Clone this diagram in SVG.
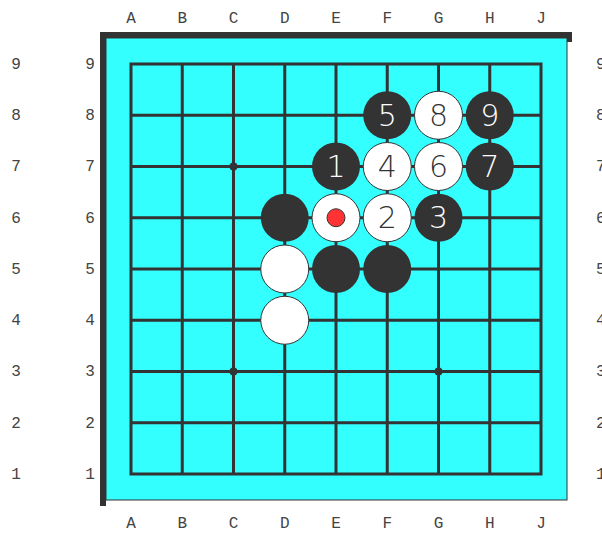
<svg xmlns="http://www.w3.org/2000/svg" width="602" height="533" viewBox="0 0 602 533">
<style>
.lbl{font-family:"Liberation Mono","Courier New",monospace;font-size:16px;fill:#444;text-anchor:middle;dominant-baseline:central;font-weight:300}
.rl{text-anchor:start}
.g{stroke:#333;stroke-width:3;fill:none}
.b{fill:#333}
.w{fill:#fff;stroke:#333;stroke-width:1}
.n{font-family:"DejaVu Sans","Liberation Sans",sans-serif;font-size:30px;font-weight:200;text-anchor:middle;dominant-baseline:central}
.nb{fill:#fff}
.nw{fill:#333}
.hoshi{fill:#333}
</style>
<rect width="602" height="533" fill="#fff"/>
<g id="board">
<rect x="100" y="32" width="472" height="6" fill="#333"/>
<rect x="566" y="32" width="6" height="10" fill="#333"/>
<rect x="100" y="32" width="6" height="474" fill="#333"/>
<rect x="106" y="38" width="461" height="462" fill="#33ffff" stroke="#333" stroke-width="1"/>
</g>
<g id="grid" class="g">
<rect x="131" y="64" width="410" height="410"/>
<path d="M182.25 64V474M233.5 64V474M284.75 64V474M336 64V474M387.25 64V474M438.5 64V474M489.75 64V474M131 115.25H541M131 166.5H541M131 217.75H541M131 269H541M131 320.25H541M131 371.5H541M131 422.75H541"/>
</g>
<g id="hoshi">
<circle class="hoshi" cx="233.5" cy="166.5" r="4"/>
<circle class="hoshi" cx="233.5" cy="371.5" r="4"/>
<circle class="hoshi" cx="438.5" cy="371.5" r="4"/>
</g>
<g id="coords">
<text class="lbl" x="131" y="19">A</text><text class="lbl" x="182.25" y="19">B</text><text class="lbl" x="233.5" y="19">C</text><text class="lbl" x="284.75" y="19">D</text><text class="lbl" x="336" y="19">E</text><text class="lbl" x="387.25" y="19">F</text><text class="lbl" x="438.5" y="19">G</text><text class="lbl" x="489.75" y="19">H</text><text class="lbl" x="541" y="19">J</text>
<text class="lbl" x="131" y="524">A</text><text class="lbl" x="182.25" y="524">B</text><text class="lbl" x="233.5" y="524">C</text><text class="lbl" x="284.75" y="524">D</text><text class="lbl" x="336" y="524">E</text><text class="lbl" x="387.25" y="524">F</text><text class="lbl" x="438.5" y="524">G</text><text class="lbl" x="489.75" y="524">H</text><text class="lbl" x="541" y="524">J</text>
<text class="lbl" x="16" y="65">9</text><text class="lbl" x="16" y="116">8</text><text class="lbl" x="16" y="167">7</text><text class="lbl" x="16" y="218.5">6</text><text class="lbl" x="16" y="269.5">5</text><text class="lbl" x="16" y="321">4</text><text class="lbl" x="16" y="372">3</text><text class="lbl" x="16" y="423.5">2</text><text class="lbl" x="16" y="474.5">1</text>
<text class="lbl" x="90" y="65">9</text><text class="lbl" x="90" y="116">8</text><text class="lbl" x="90" y="167">7</text><text class="lbl" x="90" y="218.5">6</text><text class="lbl" x="90" y="269.5">5</text><text class="lbl" x="90" y="321">4</text><text class="lbl" x="90" y="372">3</text><text class="lbl" x="90" y="423.5">2</text><text class="lbl" x="90" y="474.5">1</text>
<text class="lbl rl" x="596" y="65">9</text><text class="lbl rl" x="596" y="116">8</text><text class="lbl rl" x="596" y="167">7</text><text class="lbl rl" x="596" y="218.5">6</text><text class="lbl rl" x="596" y="269.5">5</text><text class="lbl rl" x="596" y="321">4</text><text class="lbl rl" x="596" y="372">3</text><text class="lbl rl" x="596" y="423.5">2</text><text class="lbl rl" x="596" y="474.5">1</text>
</g>
<g id="stone-F8"><circle class="b" cx="387.25" cy="115.25" r="24"/><text class="n nb" x="387.25" y="115.25">5</text></g>
<g id="stone-G8"><circle class="w" cx="438.5" cy="115.25" r="24"/><text class="n nw" x="438.5" y="115.25">8</text></g>
<g id="stone-H8"><circle class="b" cx="489.75" cy="115.25" r="24"/><text class="n nb" x="489.75" y="115.25">9</text></g>
<g id="stone-E7"><circle class="b" cx="336" cy="166.5" r="24"/><text class="n nb" x="336" y="166.5">1</text></g>
<g id="stone-F7"><circle class="w" cx="387.25" cy="166.5" r="24"/><text class="n nw" x="387.25" y="166.5">4</text></g>
<g id="stone-G7"><circle class="w" cx="438.5" cy="166.5" r="24"/><text class="n nw" x="438.5" y="166.5">6</text></g>
<g id="stone-H7"><circle class="b" cx="489.75" cy="166.5" r="24"/><text class="n nb" x="489.75" y="166.5">7</text></g>
<g id="stone-D6"><circle class="b" cx="284.75" cy="217.75" r="24"/></g>
<g id="stone-E6"><circle class="w" cx="336" cy="217.75" r="24"/><circle cx="336" cy="217.75" r="9" fill="#f33" stroke="#333" stroke-width="1"/></g>
<g id="stone-F6"><circle class="w" cx="387.25" cy="217.75" r="24"/><text class="n nw" x="387.25" y="217.75">2</text></g>
<g id="stone-G6"><circle class="b" cx="438.5" cy="217.75" r="24"/><text class="n nb" x="438.5" y="217.75">3</text></g>
<g id="stone-D5"><circle class="w" cx="284.75" cy="269" r="24"/></g>
<g id="stone-E5"><circle class="b" cx="336" cy="269" r="24"/></g>
<g id="stone-F5"><circle class="b" cx="387.25" cy="269" r="24"/></g>
<g id="stone-D4"><circle class="w" cx="284.75" cy="320.25" r="24"/></g>
</svg>
